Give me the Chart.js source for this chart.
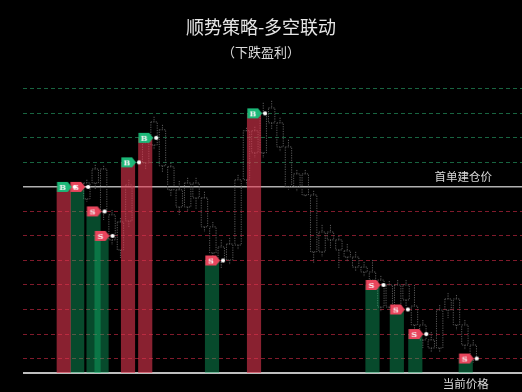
<!DOCTYPE html>
<html>
<head>
<meta charset="utf-8">
<script src="https://cdn.jsdelivr.net/npm/chart.js@4.4.1/dist/chart.umd.min.js"></script>
<style>
  html, body { margin: 0; padding: 0; background: #000; }
  canvas { display: block; }
</style>
</head>
<body>
<canvas id="chart" width="522" height="392"></canvas>
<script>
(function(){
    const titleText = '顺势策略-多空联动';
    const subtitleText = '（下跌盈利）';
    const entryLabel = '首单建仓价';
    const currentLabel = '当前价格';

    // prices in grid steps, 10 = first entry price
    const entryLevel = 10;
    const floorLevel = 2.41;
    const topLevel = 14.4;
    const gridLevels = [3, 4, 5, 6, 7, 8, 9, 10, 11, 12, 13, 14];

    // candles (x = candle number)
    const candleIndex = [3, 4, 5, 6, 7, 8, 10, 11, 12, 13, 14, 15, 16, 17, 18, 19, 20, 21, 22, 23, 24, 25, 26, 27, 28, 29,
                         30, 31, 32, 33, 34, 35, 36, 37, 38, 39, 40, 41, 42, 43, 44, 45, 46, 47, 48, 49];
    const candleOpen  = [9.51, 10.16, 10.73, 8.86, 8.57, 8.61, 10.98, 11.71, 12.33, 10.82, 9.88, 9.18, 9.55, 9.55, 8.37, 7.55, 7.02, 7.63, 10.29, 11.39, 11.39, 12.61, 12.61, 11.63, 10.00, 10.53,
                         9.67, 7.35, 8.16, 7.84, 7.39, 7.14, 6.73, 6.53, 6.20, 5.10, 6.00, 5.39, 5.14, 4.37, 3.76, 3.43, 4.98, 5.43, 4.37, 3.55];
    const candleClose = [10.16, 10.73, 8.98, 7.84, 7.43, 10.08, 11.80, 12.65, 10.86, 9.88, 9.18, 10.16, 10.16, 8.37, 7.31, 6.94, 7.67, 10.29, 12.29, 12.29, 13.02, 13.22, 11.63, 10.00, 10.53, 9.67,
                         7.35, 8.16, 7.84, 7.43, 7.14, 6.73, 6.53, 6.20, 5.10, 6.00, 5.06, 6.00, 4.37, 3.76, 3.43, 4.98, 5.43, 4.37, 3.55, 2.94];
    const candleHigh  = [10.29, 10.90, 10.86, 9.06, 8.73, 10.29, 12.00, 12.86, 12.53, 10.98, 10.24, 10.37, 10.37, 9.80, 8.57, 7.84, 7.92, 10.49, 12.41, 12.45, 13.43, 13.51, 12.82, 11.92, 10.69, 10.69,
                         9.84, 8.45, 8.45, 8.00, 7.67, 7.35, 6.94, 7.02, 6.37, 6.16, 6.20, 6.20, 6.00, 4.57, 4.08, 5.18, 5.67, 5.59, 4.57, 3.76];
    const candleLow   = [9.39, 9.88, 8.65, 7.63, 7.10, 8.33, 10.69, 11.51, 10.61, 9.59, 8.86, 8.98, 9.06, 8.16, 7.02, 6.69, 6.82, 7.43, 10.08, 11.18, 11.18, 12.33, 11.43, 9.88, 9.80, 9.59,
                         6.90, 7.14, 7.51, 6.69, 6.94, 6.57, 6.33, 6.04, 4.90, 4.98, 4.90, 5.14, 4.16, 3.43, 3.27, 3.27, 4.65, 4.16, 3.35, 2.82];

    // orders: B = long (red column), S = short (green column)
    const buyAt = [0.25, 7.9, 9.95, 22.9];
    const buyLevel = [10, 11, 12, 13];
    const sellAt = [1.85, 3.8, 4.75, 17.9, 37, 39.9, 42.1, 48.1];
    const sellLevel = [10, 9, 8, 7, 6, 5, 4, 3];

    const entryLabelAt = 47.8;
    const currentAt = 48.1;

    const halfBody = 0.38;
    const candlePts = [];
    candleIndex.forEach((x, k) => {
        const top = Math.max(candleOpen[k], candleClose[k]);
        const bot = Math.min(candleOpen[k], candleClose[k]);
        candlePts.push({x: x - halfBody, y: top}, {x: x + halfBody, y: top}, {x: x + halfBody, y: bot},
                       {x: x - halfBody, y: bot}, {x: x - halfBody, y: top}, {x: x, y: null});
        candlePts.push({x: x, y: candleHigh[k]}, {x: x, y: top}, {x: x, y: null},
                       {x: x, y: bot}, {x: x, y: candleLow[k]}, {x: x, y: null});
    });

    function makeTag(letter, fill){
        const c = document.createElement('canvas');
        c.width = 38; c.height = 12;
        const g = c.getContext('2d');
        g.fillStyle = fill;
        g.beginPath();
        g.moveTo(12.3, 1); g.lineTo(23, 1); g.lineTo(27, 6); g.lineTo(23, 11); g.lineTo(12.3, 11);
        g.closePath();
        g.fill();
        g.fillStyle = '#f4f4f4';
        g.font = 'bold 8px "DejaVu Serif"';
        g.textAlign = 'center';
        g.textBaseline = 'middle';
        g.fillText(letter, 18, 6.5);
        g.fillStyle = '#ffffff';
        g.beginPath();
        g.arc(30, 6, 2.1, 0, Math.PI * 2);
        g.fill();
        return c;
    }
    const buyTag = makeTag('B', '#1cb878');
    const sellTag = makeTag('S', '#e8455c');

    const textLabels = {
        id: 'textLabels',
        afterDatasetsDraw(chart){
            const {ctx, scales: {x, y}} = chart;
            ctx.save();
            ctx.fillStyle = '#d8d8d8';
            ctx.font = '11.5px "Noto Sans CJK SC"';
            ctx.textAlign = 'center';
            ctx.textBaseline = 'middle';
            ctx.fillText(entryLabel, x.getPixelForValue(entryLabelAt), y.getPixelForValue(entryLevel) - 10);
            ctx.fillText(currentLabel, x.getPixelForValue(currentAt), y.getPixelForValue(floorLevel) + 11);
            ctx.restore();
        }
    };

    const font = '"Noto Sans CJK SC", sans-serif';

    new Chart(document.getElementById('chart'), {
        type: 'bar',
        data: {
            datasets: [
                {
                    type: 'scatter', label: 'B', order: 0,
                    data: buyAt.map((x, k) => ({x: x, y: buyLevel[k]})),
                    pointStyle: buyTag, pointRadius: 3, clip: false
                },
                {
                    type: 'scatter', label: 'S', order: 0,
                    data: sellAt.map((x, k) => ({x: x, y: sellLevel[k]})),
                    pointStyle: sellTag, pointRadius: 3, clip: false
                },
                {
                    type: 'bar', label: 'long', order: 1,
                    data: buyAt.map((x, k) => ({x: x, y: buyLevel[k]})),
                    backgroundColor: 'rgba(228,55,80,0.6)',
                    borderWidth: 0, barThickness: 13.5, grouped: false
                },
                {
                    type: 'bar', label: 'short', order: 1,
                    data: sellAt.map((x, k) => ({x: x, y: sellLevel[k]})),
                    backgroundColor: 'rgba(18,185,110,0.4)',
                    borderWidth: 0, barThickness: 13.5, grouped: false
                },
                {
                    type: 'line', label: 'k', order: 2,
                    data: candlePts,
                    borderColor: '#5a5a5a', borderWidth: 1, borderDash: [1.2, 1.2],
                    pointRadius: 0, tension: 0, spanGaps: false, fill: false
                }
            ]
        },
        options: {
            responsive: false,
            animation: false,
            events: [],
            layout: { autoPadding: false, padding: { left: 0, right: 0, top: 0, bottom: 19 } },
            scales: {
                x: { type: 'linear', min: -4.6, max: 54.8, offset: false, display: false },
                y: {
                    type: 'linear', min: floorLevel, max: topLevel,
                    afterBuildTicks: s => { s.ticks = [floorLevel].concat(gridLevels).map(v => ({value: v})); },
                    afterFit: s => { s.width = 23; },
                    ticks: { display: false },
                    grid: {
                        drawTicks: false,
                        color: c => c.tick.value === floorLevel ? '#bdbdbd'
                                  : c.tick.value === entryLevel ? '#b0b0b0'
                                  : c.tick.value > entryLevel ? 'rgba(30,125,80,0.8)' : 'rgba(150,30,50,0.85)',
                        lineWidth: c => c.tick.value === floorLevel ? 2 : c.tick.value === entryLevel ? 1.4 : 1
                    },
                    border: {
                        display: false,
                        dash: c => (c.tick && (c.tick.value === floorLevel || c.tick.value === entryLevel)) ? [] : [4, 3]
                    }
                }
            },
            plugins: {
                legend: { display: false },
                tooltip: { enabled: false },
                title: {
                    display: true, text: titleText, color: '#e6e6e6',
                    font: { family: font, size: 18, weight: 'normal' },
                    padding: { top: 16, bottom: 4 }
                },
                subtitle: {
                    display: true, text: subtitleText, color: '#dcdcdc',
                    font: { family: font, size: 13, weight: 'normal' },
                    padding: { top: 2.6, bottom: 19.2 }
                }
            }
        },
        plugins: [textLabels]
    });
})()
</script>
</body>
</html>
